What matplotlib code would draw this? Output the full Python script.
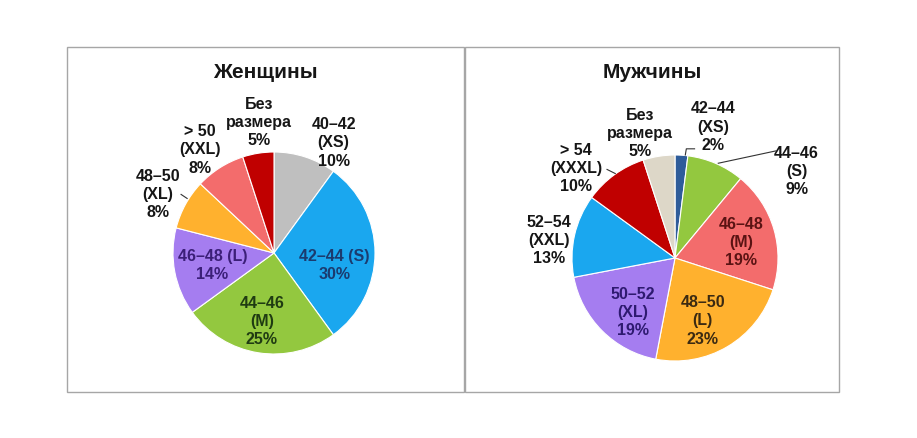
import numpy as np
import matplotlib
matplotlib.use("Agg")
from matplotlib import pyplot as plt
from matplotlib.patches import Rectangle

plt.rcParams["font.family"] = ["Liberation Sans", "DejaVu Sans"]

# ------------------------------------------------------------------------------
#  Data
# ------------------------------------------------------------------------------

women_labels = ["40–42\n(XS)", "42–44 (S)", "44–46\n(M)", "46–48 (L)",
                "48–50\n(XL)", "> 50\n(XXL)", "Без\nразмера"]
women_values = [10, 30, 25, 14, 8, 8, 5]

men_labels = ["42–44\n(XS)", "44–46\n(S)", "46–48\n(M)", "48–50\n(L)",
              "50–52\n(XL)", "52–54\n(XXL)", "> 54\n(XXXL)", "Без\nразмера"]
men_values = [2, 9, 19, 23, 19, 13, 10, 5]

# ------------------------------------------------------------------------------
#  Styles / layout
# ------------------------------------------------------------------------------

GREY = "#BFBFBF"
BLUE = "#1AA7EF"
GREEN = "#93C83F"
PURPLE = "#A57DF0"
ORANGE = "#FFB12E"
SALMON = "#F36C6C"
DARKRED = "#C00000"
NAVY = "#2E5C9A"
BEIGE = "#DDD7C8"

women_colors = [GREY, BLUE, GREEN, PURPLE, ORANGE, SALMON, DARKRED]
men_colors = [NAVY, GREEN, SALMON, ORANGE, PURPLE, BLUE, DARKRED, BEIGE]

TXT = "#161616"
women_txt = [TXT, "#1B3B6F", "#1F3B12", "#3B1F78", TXT, TXT, TXT]
men_txt = [TXT, TXT, "#5A1313", "#3B2A12", "#2E1A70", TXT, TXT, TXT]

# label centres as offsets from the pie centre, in units of radius
women_pos = [(0.59, 1.09), (0.60, -0.12), (-0.12, -0.68), (-0.61, -0.12),
             (-1.15, 0.58), (-0.73, 1.02), (-0.15, 1.29)]
men_pos = [(0.37, 1.27), (1.18, 0.84), (0.64, 0.15), (0.27, -0.61),
           (-0.41, -0.53), (-1.22, 0.17), (-0.96, 0.87), (-0.34, 1.21)]

# leader lines: list of points (offsets in units of radius), or None
women_lead = [None] * 7
women_lead[4] = [(-0.92, 0.58), (-0.86, 0.54)]
men_lead = [None] * 8
men_lead[0] = [(0.19, 1.06), (0.11, 1.06), (0.10, 1.00)]
men_lead[1] = [(0.98, 1.04), (0.42, 0.92)]
men_lead[6] = [(-0.66, 0.86), (-0.58, 0.82)]

W, H = 917, 438
fig = plt.figure(figsize=(W / 100, H / 100), dpi=100)
ax = fig.add_axes([0, 0, 1, 1])


def draw_panel(x0, x1, title, title_x, cx, cy, r, values, labels, colors,
               txt_colors, pos, lead):
    ax.add_patch(Rectangle((x0, H - 392), x1 - x0, 392 - 47, fill=False,
                           edgecolor="#A6A6A6", linewidth=1.0))
    ax.text(title_x, H - 73, title, ha="center", va="center",
            fontsize=15, fontweight="bold", color=TXT)
    ax.pie(values, colors=colors, startangle=90, counterclock=False,
           center=(cx, H - cy), radius=r, frame=True,
           wedgeprops=dict(edgecolor="white", linewidth=0.8))
    for lab, val, tc, (dx, dy), ld in zip(labels, values, txt_colors, pos,
                                          lead):
        ax.text(cx + dx * r, H - cy + dy * r, f"{lab}\n{val}%",
                ha="center", va="center", fontsize=11.5, fontweight="bold",
                color=tc, linespacing=1.27)
        if ld is not None:
            pts = np.array(ld)
            ax.plot(cx + pts[:, 0] * r, H - cy + pts[:, 1] * r,
                    color="#333333", linewidth=0.8)


draw_panel(67, 464, "Женщины", 265, 274, 253, 101, women_values,
           women_labels, women_colors, women_txt, women_pos, women_lead)
draw_panel(465, 839, "Мужчины", 652, 675, 258, 103, men_values,
           men_labels, men_colors, men_txt, men_pos, men_lead)

ax.set_xlim(0, W)
ax.set_ylim(0, H)
ax.set_aspect("equal")
ax.axis("off")

fig.savefig("out.png", dpi=100, facecolor="white")
